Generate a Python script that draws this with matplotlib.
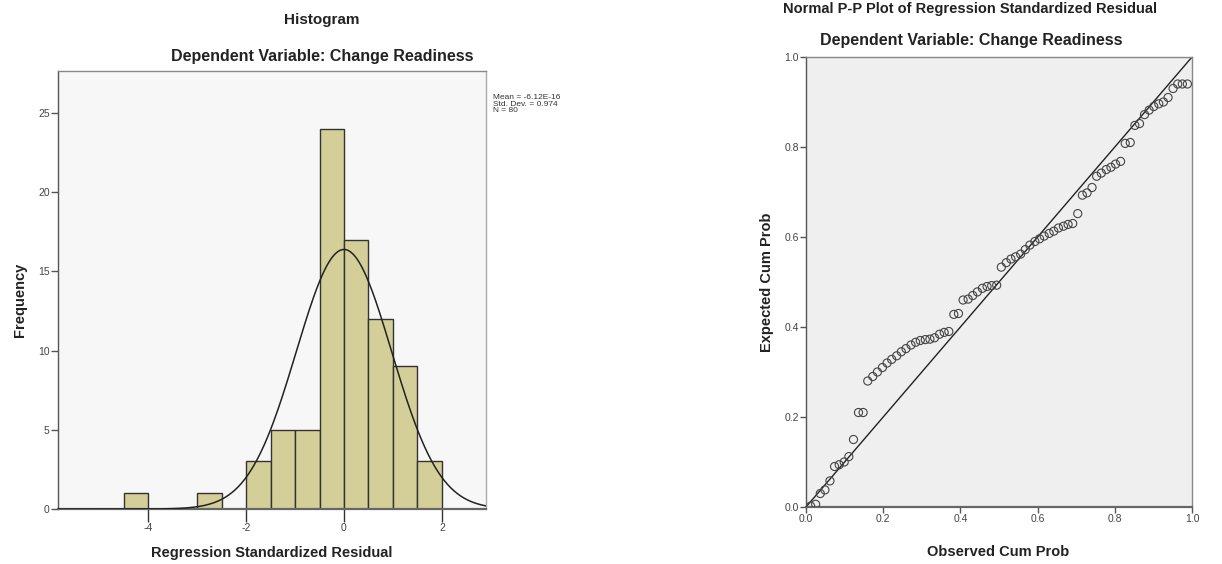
import numpy as np
import matplotlib
matplotlib.use("Agg")
import matplotlib.pyplot as plt

plt.rcParams["font.family"] = ["Liberation Sans", "DejaVu Sans"]
plt.rcParams["axes.unicode_minus"] = False

# --- Histogram data (regression standardized residuals) ---
bin_left = [-4.5, -3.0, -2.0, -1.5, -1.0, -0.5, 0.0, 0.5, 1.0, 1.5]
bin_count = [1, 1, 3, 5, 5, 24, 17, 12, 9, 3]
bin_width = 0.5
res_mean = -6.12e-16
res_sd = 0.974
res_n = 80

# --- Normal P-P plot data ---
obs_cum = [0.012, 0.025, 0.037, 0.049, 0.062, 0.074, 0.086, 0.099, 0.111, 0.123,
           0.136, 0.148, 0.160, 0.173, 0.185, 0.198, 0.210, 0.222, 0.235, 0.247,
           0.259, 0.272, 0.284, 0.296, 0.309, 0.321, 0.333, 0.346, 0.358, 0.370,
           0.383, 0.395, 0.407, 0.420, 0.432, 0.444, 0.457, 0.469, 0.481, 0.494,
           0.506, 0.519, 0.531, 0.543, 0.556, 0.568, 0.580, 0.593, 0.605, 0.617,
           0.630, 0.642, 0.654, 0.667, 0.679, 0.691, 0.704, 0.716, 0.728, 0.741,
           0.753, 0.765, 0.778, 0.790, 0.802, 0.815, 0.827, 0.840, 0.852, 0.864,
           0.877, 0.889, 0.901, 0.914, 0.926, 0.938, 0.951, 0.963, 0.975, 0.988]
exp_cum = [0.002, 0.006, 0.030, 0.038, 0.058, 0.090, 0.094, 0.100, 0.112, 0.150,
           0.210, 0.210, 0.280, 0.290, 0.300, 0.310, 0.320, 0.328, 0.336, 0.345,
           0.352, 0.360, 0.366, 0.370, 0.372, 0.373, 0.376, 0.384, 0.388, 0.390,
           0.428, 0.430, 0.460, 0.462, 0.470, 0.478, 0.486, 0.490, 0.492, 0.493,
           0.533, 0.543, 0.551, 0.556, 0.562, 0.572, 0.582, 0.590, 0.596, 0.602,
           0.608, 0.613, 0.620, 0.624, 0.628, 0.630, 0.652, 0.693, 0.698, 0.710,
           0.735, 0.742, 0.750, 0.755, 0.762, 0.768, 0.808, 0.810, 0.848, 0.852,
           0.872, 0.882, 0.890, 0.896, 0.900, 0.910, 0.930, 0.940, 0.940, 0.940]

W, H = 1222, 564
fig = plt.figure(figsize=(W / 100, H / 100), dpi=100)
fig.patch.set_facecolor("white")


def px(x, y):
    return x / W, 1 - y / H


def frame(ax, light_right=False):
    for s in ["left", "bottom", "top"]:
        ax.spines[s].set_color("#555555")
        ax.spines[s].set_linewidth(1.0)
    ax.spines["top"].set_color("#888888")
    ax.spines["right"].set_color("#aaaaaa" if light_right else "#888888")
    ax.spines["right"].set_linewidth(1.0)
    ax.spines["bottom"].set_linewidth(1.6)
    ax.spines["bottom"].set_color("#666666")


# Histogram
ax1 = fig.add_axes([58 / W, 1 - 509 / H, 428 / W, 438 / H])
ax1.set_facecolor("#f7f7f7")
ax1.bar(bin_left, bin_count, width=bin_width, align="edge",
        color="#d4cf98", edgecolor="#333333", linewidth=1.0, zorder=2)
xs = np.linspace(-5.84, 2.9, 400)
curve = res_n * bin_width / (res_sd * np.sqrt(2 * np.pi)) * np.exp(-0.5 * ((xs - res_mean) / res_sd) ** 2)
ax1.plot(xs, curve, color="#222222", lw=1.1, zorder=3)
ax1.set_xlim(-5.84, 2.9)
ax1.set_ylim(0, 27.65)
ax1.set_xticks([-4, -2, 0, 2])
ax1.set_yticks([0, 5, 10, 15, 20, 25])
ax1.tick_params(axis="x", length=9, width=1, color="#333333", labelsize=7.5, labelcolor="#444444", pad=1)
ax1.tick_params(axis="y", length=5, width=1, color="#555555", labelsize=7.5, labelcolor="#444444", pad=1)
frame(ax1, light_right=True)

fig.text(*px(322, 20), "Histogram", ha="center", va="center", fontsize=11, fontweight="bold", color="#222222")
fig.text(*px(322, 57), "Dependent Variable: Change Readiness", ha="center", va="center",
         fontsize=11.5, fontweight="bold", color="#222222")
fig.text(*px(20, 300), "Frequency", ha="center", va="center", rotation=90,
         fontsize=10.5, fontweight="bold", color="#222222")
fig.text(*px(272, 553), "Regression Standardized Residual", ha="center", va="center",
         fontsize=10.5, fontweight="bold", color="#222222")
fig.text(*px(493, 94), f"Mean = {res_mean:.2E}\nStd. Dev. = {res_sd}\nN = {res_n}",
         ha="left", va="top", fontsize=6, linespacing=0.95, color="#333333")

# Normal P-P plot
ax2 = fig.add_axes([806 / W, 1 - 507 / H, 386 / W, 450 / H])
ax2.set_facecolor("#efefef")
ax2.plot([0, 1], [0, 1], color="#222222", lw=1.0, zorder=2)
ax2.scatter(obs_cum, exp_cum, s=34, facecolors="none", edgecolors="#444444", linewidths=0.8, zorder=3)
ax2.set_xlim(0, 1)
ax2.set_ylim(0, 1)
ticks = [0.0, 0.2, 0.4, 0.6, 0.8, 1.0]
ax2.set_xticks(ticks)
ax2.set_yticks(ticks)
ax2.set_xticklabels([f"{t:.1f}" for t in ticks])
ax2.set_yticklabels([f"{t:.1f}" for t in ticks])
ax2.tick_params(length=4, width=1, color="#555555", labelsize=7.5, labelcolor="#444444", pad=1)
frame(ax2)

fig.text(*px(970, 9), "Normal P-P Plot of Regression Standardized Residual", ha="center", va="center",
         fontsize=10.5, fontweight="bold", color="#222222")
fig.text(*px(971, 40), "Dependent Variable: Change Readiness", ha="center", va="center",
         fontsize=11.5, fontweight="bold", color="#222222")
fig.text(*px(767, 282), "Expected Cum Prob", ha="center", va="center", rotation=90,
         fontsize=10.5, fontweight="bold", color="#222222")
fig.text(*px(998, 552), "Observed Cum Prob", ha="center", va="center",
         fontsize=10.5, fontweight="bold", color="#222222")

fig.savefig("out.png", dpi=100, facecolor="white")
